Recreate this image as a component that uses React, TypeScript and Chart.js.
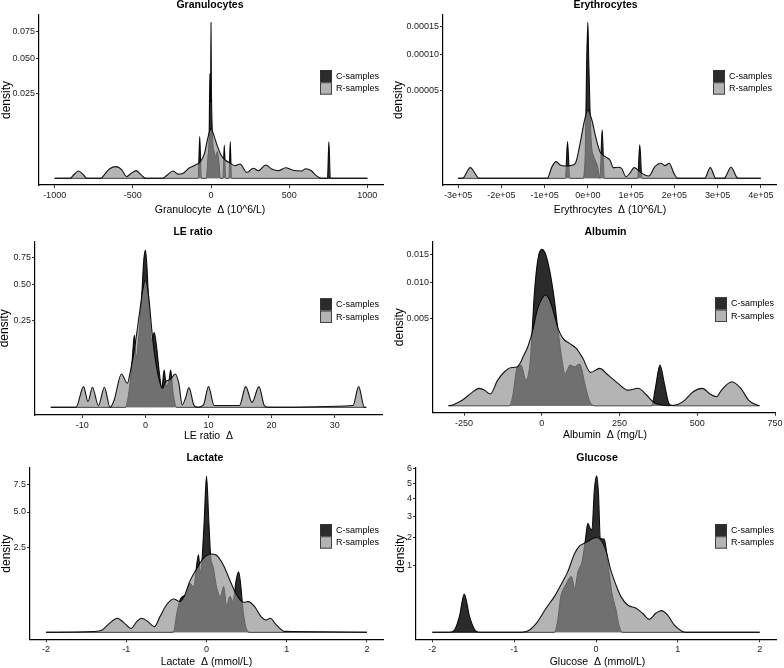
import React, { useEffect, useRef } from 'react';
import { Chart, registerables, LinearScale } from 'chart.js';

Chart.register(...registerables);

// square-root y scale (ggplot scale_y_sqrt)
class SqrtScale extends LinearScale {
  static id = 'sqrt';
  static defaults = {};
  getPixelForValue(value: any) {
    if (value === null || value === undefined || isNaN(value)) return NaN;
    const s = Math.sign(value) * Math.sqrt(Math.abs(value));
    return super.getPixelForValue(s);
  }
  getValueForPixel(pixel: number) {
    const s = super.getValueForPixel(pixel) as number;
    return Math.sign(s) * s * s;
  }
}
Chart.register(SqrtScale as any);

const SERIES = ['C-samples', 'R-samples'];

// ---------- data: [delta, density] ----------
const granulocyteC: [number, number][] = [[-1000,0],[-82,0],[-72,0.006],[-62,0],[-30,0],[-20,0.0015],[-12,0.006],[-7,0.038],[-3,0.02],[0,0.084],[3,0.025],[7,0.01],[12,0.004],[20,0.0025],[30,0.0015],[40,0.0025],[50,0.001],[60,0],[76,0],[85,0.0038],[94,0],[115,0],[123,0.0046],[131,0],[745,0],[754,0.0046],[763,0],[1000,0]];
const granulocyteR: [number, number][] = [[-1000,0],[-900,0],[-879,3.8e-5],[-847,1.86e-4],[-815,3.8e-5],[-795,0],[-705,0],[-680,5.5e-5],[-650,3.0e-4],[-608,4.7e-4],[-570,2.4e-4],[-540,1.0e-5],[-510,8.6e-5],[-479,2.03e-4],[-450,5.5e-5],[-420,0],[-310,0],[-280,3.8e-5],[-242,1.86e-4],[-210,6.0e-5],[-180,8.0e-5],[-142,3.5e-4],[-110,5.5e-4],[-68,9.6e-4],[-42,2.16e-3],[-21,5.5e-3],[0,8.6e-3],[21,6.0e-3],[42,3.46e-3],[64,1.88e-3],[91,1.16e-3],[123,7.8e-4],[155,5.5e-4],[186,7.1e-4],[229,1.24e-4],[271,3.5e-4],[303,2.0e-4],[350,6.1e-4],[388,3.0e-4],[430,2.0e-4],[477,3.9e-4],[525,2.2e-4],[578,1.86e-4],[606,3.2e-4],[642,2.0e-4],[674,2.5e-5],[705,0],[1000,0]];

const erythrocyteC: [number, number][] = [[-300000,0],[-52000,0],[-47000,8.8e-6],[-42000,0],[-12000,0],[-6000,4e-6],[-3000,8e-5],[0,1.59e-4],[2000,9e-5],[5000,3e-5],[8000,8e-6],[14000,3e-6],[22000,1e-6],[28000,0],[33000,1.53e-5],[38000,0],[115000,0],[120000,7.3e-6],[125000,0],[400000,0]];
const erythrocyteR: [number, number][] = [[-300000,0],[-290000,0],[-272000,7.4e-7],[-251000,0],[-94000,0],[-83000,8.9e-7],[-73500,1.82e-6],[-64000,1.16e-6],[-52000,1.0e-6],[-41000,1.05e-6],[-29000,1.47e-6],[-18000,8.0e-6],[-7700,2.22e-5],[0,3.05e-5],[9200,2.22e-5],[18000,1.13e-5],[28000,4.6e-6],[40000,3.07e-6],[51000,2.2e-6],[59000,7.4e-7],[70000,7.9e-7],[78000,6.5e-7],[88000,1.8e-8],[97000,1.6e-7],[107000,7.4e-7],[120000,2.9e-7],[132000,7.3e-8],[141000,3.6e-8],[155000,8.9e-7],[169000,1.47e-6],[178000,1.05e-6],[188000,1.47e-6],[199000,1.6e-7],[208000,0],[270000,0],[283000,7.4e-7],[296000,0],[315000,0],[331000,7.9e-7],[347000,0],[400000,0]];

const leRatioC: [number, number][] = [[-15,0],[-3.2,0],[-2.5,0.0142],[-2.1,0.0744],[-1.75,0.1738],[-1.46,0.0744],[-1.2,0.1223],[-0.68,0.3366],[-0.26,0.7211],[0,0.8223],[0.21,0.6889],[0.62,0.2935],[0.99,0.1506],[1.4,0.1852],[1.77,0.1223],[2.19,0.0423],[2.6,0.012],[2.97,0.0463],[3.33,0.0142],[3.75,0.0248],[4.0,0.0463],[4.4,0.0065],[4.95,0],[35,0]];
const leRatioR: [number, number][] = [[-15,0],[-11,0],[-9.8,0.0142],[-9.1,0.0011],[-8.4,0.0133],[-7.45,0.0001],[-6.5,0.0133],[-5.6,0],[-4.95,0.0018],[-3.8,0.0369],[-2.86,0.0191],[-2.5,0.0347],[-1.72,0.1156],[-0.94,0.2935],[-0.42,0.4573],[0,0.5386],[0.52,0.4069],[1.04,0.1902],[1.4,0.1029],[1.67,0.0643],[2.19,0.0248],[2.7,0.012],[3.23,0.0219],[4.0,0.026],[4.7,0.0369],[5.3,0.0191],[5.83,0.0002],[6.35,0.0027],[6.9,0.0128],[7.66,0.0002],[8.2,0],[9.2,0.0002],[10,0.0142],[10.9,0.0001],[14.9,0.0001],[15.9,0.0142],[16.9,0.0008],[18,0.0142],[18.85,0.0001],[19.4,0],[32.9,0.0001],[33.8,0.0142],[34.7,0],[35,0]];

const albuminC: [number, number][] = [[-300,0],[-104,0],[-94,5.3e-5],[-80,9.2e-4],[-67,1.09e-3],[-51,4.3e-4],[-37,1.37e-3],[-24,8.3e-3],[-13,0.01398],[0,0.0161],[11,0.0153],[25,0.0121],[39,7.83e-3],[52,3.77e-3],[65,1.37e-3],[75,6.6e-4],[91,1.09e-3],[105,1.0e-3],[122,1.14e-3],[138,3.3e-4],[154,1.05e-5],[170,0],[353,0],[366,2.4e-4],[380,1.09e-3],[394,3.3e-4],[409,3e-6],[423,0],[700,0]];
const albuminR: [number, number][] = [[-300,0],[-287,3e-7],[-255,2.1e-5],[-228,1.0e-4],[-201,1.98e-4],[-185,1.62e-4],[-166,9e-5],[-142,4.3e-4],[-120,7.6e-4],[-101,9.5e-4],[-80,9.9e-4],[-67,1.28e-3],[-61,1.54e-3],[-45,2.29e-3],[-29,3.77e-3],[-15,6.0e-3],[-2,7.36e-3],[11,8.07e-3],[25,7.36e-3],[39,5.6e-3],[52,3.94e-3],[68,2.99e-3],[89,2.56e-3],[111,2.17e-3],[132,1.48e-3],[157,7.3e-4],[186,9.2e-4],[213,6.2e-4],[245,3.3e-4],[277,1.6e-4],[310,2.0e-4],[337,7.5e-5],[358,1.05e-5],[374,1.2e-6],[406,0],[439,1.2e-6],[460,2.1e-5],[487,1.29e-4],[516,1.98e-4],[541,9e-5],[562,5.3e-5],[578,1.62e-4],[611,3.8e-4],[640,1.98e-4],[665,2.1e-5],[686,1.2e-6],[700,0]];

const lactateC: [number, number][] = [[-2,0],[-0.45,0],[-0.41,0.0001],[-0.37,0.125],[-0.33,0.361],[-0.3,0.44],[-0.25,0.508],[-0.21,0.83],[-0.16,0.72],[-0.1,2.07],[-0.075,1.2],[-0.03,4.1],[0,8.44],[0.03,4.1],[0.054,1.89],[0.083,1.49],[0.124,0.72],[0.174,0.44],[0.215,0.72],[0.25,0.228],[0.29,0.44],[0.33,0.325],[0.37,0.946],[0.4,1.27],[0.42,0.946],[0.46,0.125],[0.505,0.0012],[0.54,0],[2,0]];
const lactateR: [number, number][] = [[-2,0],[-1.41,0.0002],[-1.3,0.0019],[-1.2,0.0323],[-1.11,0.0677],[-1.03,0.0323],[-0.94,0.0055],[-0.87,0.0393],[-0.81,0.0677],[-0.73,0.0393],[-0.65,0.0111],[-0.58,0.0848],[-0.5,0.258],[-0.41,0.384],[-0.33,0.325],[-0.27,0.482],[-0.21,0.887],[-0.12,1.415],[-0.04,1.89],[0.06,2.12],[0.12,2.066],[0.21,1.566],[0.29,0.946],[0.37,0.508],[0.46,0.311],[0.52,0.325],[0.6,0.228],[0.68,0.0848],[0.745,0.0526],[0.795,0.0677],[0.87,0.0186],[0.97,0.0003],[1.08,0.0002],[2,0]];

const glucoseC: [number, number][] = [[-2,0],[-1.79,0],[-1.73,0.0012],[-1.67,0.0552],[-1.61,0.33],[-1.545,0.0552],[-1.48,0.0012],[-1.42,0],[-0.51,0],[-0.47,0.0256],[-0.43,0.286],[-0.37,0.504],[-0.3,0.697],[-0.26,0.436],[-0.22,0.828],[-0.17,1.124],[-0.13,1.918],[-0.1,2.67],[-0.073,2.43],[-0.05,2.356],[-0.02,4.56],[0.008,5.5],[0.03,4.35],[0.053,1.99],[0.1,1.95],[0.15,0.97],[0.195,0.342],[0.244,0.112],[0.285,0.0072],[0.325,0],[2,0]];
const glucoseR: [number, number][] = [[-2,0],[-0.955,0],[-0.83,0.0006],[-0.73,0.0182],[-0.61,0.13],[-0.51,0.286],[-0.43,0.504],[-0.345,0.828],[-0.26,1.404],[-0.2,1.677],[-0.14,1.78],[-0.07,1.918],[0,2.02],[0.06,1.918],[0.12,1.525],[0.18,0.874],[0.244,0.504],[0.305,0.286],[0.386,0.168],[0.49,0.13],[0.57,0.0812],[0.65,0.038],[0.73,0.0812],[0.8,0.106],[0.874,0.0676],[0.955,0.0121],[1.04,0.0006],[1.1,0],[2,0]];

// ---------- ticks ----------
const granXTicks = [-1000, -500, 0, 500, 1000];
const granXLabels = ['-1000', '-500', '0', '500', '1000'];
const granYTicks = [0.025, 0.05, 0.075];
const granYLabels = ['0.025', '0.050', '0.075'];
const eryXTicks = [-300000, -200000, -100000, 0, 100000, 200000, 300000, 400000];
const eryXLabels = ['-3e+05', '-2e+05', '-1e+05', '0e+00', '1e+05', '2e+05', '3e+05', '4e+05'];
const eryYTicks = [0.00005, 0.0001, 0.00015];
const eryYLabels = ['0.00005', '0.00010', '0.00015'];
const leXTicks = [-10, 0, 10, 20, 30];
const leXLabels = ['-10', '0', '10', '20', '30'];
const leYTicks = [0.25, 0.5, 0.75];
const leYLabels = ['0.25', '0.50', '0.75'];
const albXTicks = [-250, 0, 250, 500, 750];
const albXLabels = ['-250', '0', '250', '500', '750'];
const albYTicks = [0.005, 0.01, 0.015];
const albYLabels = ['0.005', '0.010', '0.015'];
const lacXTicks = [-2, -1, 0, 1, 2];
const lacXLabels = ['-2', '-1', '0', '1', '2'];
const lacYTicks = [2.5, 5, 7.5];
const lacYLabels = ['2.5', '5.0', '7.5'];
const gluXTicks = [-2, -1, 0, 1, 2];
const gluXLabels = ['-2', '-1', '0', '1', '2'];
const gluYTicks = [1, 2, 3, 4, 5, 6];
const gluYLabels = ['1', '2', '3', '4', '5', '6'];

const PANELS = [
  { title: 'Granulocytes', xTitle: 'Granulocyte  \u0394 (10^6/L)', c: granulocyteC, r: granulocyteR, xt: granXTicks, xl: granXLabels, yt: granYTicks, yl: granYLabels },
  { title: 'Erythrocytes', xTitle: 'Erythrocytes  \u0394 (10^6/L)', c: erythrocyteC, r: erythrocyteR, xt: eryXTicks, xl: eryXLabels, yt: eryYTicks, yl: eryYLabels },
  { title: 'LE ratio', xTitle: 'LE ratio  \u0394', c: leRatioC, r: leRatioR, xt: leXTicks, xl: leXLabels, yt: leYTicks, yl: leYLabels },
  { title: 'Albumin', xTitle: 'Albumin  \u0394 (mg/L)', c: albuminC, r: albuminR, xt: albXTicks, xl: albXLabels, yt: albYTicks, yl: albYLabels },
  { title: 'Lactate', xTitle: 'Lactate  \u0394 (mmol/L)', c: lactateC, r: lactateR, xt: lacXTicks, xl: lacXLabels, yt: lacYTicks, yl: lacYLabels },
  { title: 'Glucose', xTitle: 'Glucose  \u0394 (mmol/L)', c: glucoseC, r: glucoseR, xt: gluXTicks, xl: gluXLabels, yt: gluYTicks, yl: gluYLabels },
];

// ---------- layout (canvas coords) ----------
const LAYOUT = [
  { left: 0, top: 0, w: 392, h: 220, L: 39, R: 383, T: 15, B: 185, xMin: -1100, xMax: 1100, ySMin: -0.01246, ySMax: 0.3038, tx: 210, ty: 5, xtx: 210, xty: 210, ytx: 7, lx: 320, ly: 70 },
  { left: 392, top: 0, w: 392, h: 220, L: 51, R: 384, T: 15, B: 185, xMin: -335000, xMax: 435000, ySMin: -0.000542, ySMax: 0.013201, tx: 213.5, ty: 5, xtx: 218, xty: 210, ytx: 6.5, lx: 321, ly: 70 },
  { left: 0, top: 220, w: 392, h: 225, L: 35, R: 382, T: 21.7, B: 195, xMin: -17.5, xMax: 37.5, ySMin: -0.0444, ySMax: 0.9545, tx: 193, ty: 12, xtx: 208.5, xty: 216, ytx: 5, lx: 320, ly: 78.3 },
  { left: 392, top: 220, w: 392, h: 225, L: 41, R: 383, T: 21.7, B: 192.7, xMin: -350, xMax: 750, ySMin: -0.00568, ySMax: 0.1331, tx: 213.5, ty: 12, xtx: 213, xty: 215, ytx: 8, lx: 323, ly: 77.3 },
  { left: 0, top: 440, w: 392, h: 228, L: 30, R: 383, T: 28, B: 199.3, xMin: -2.2, xMax: 2.2, ySMin: -0.13, ySMax: 3.054, tx: 205, ty: 18.3, xtx: 206.5, xty: 221.7, ytx: 7, lx: 320, ly: 84 },
  { left: 392, top: 440, w: 392, h: 228, L: 24, R: 384, T: 28, B: 199.3, xMin: -2.2, xMax: 2.2, ySMin: -0.105, ySMax: 2.463, tx: 205, ty: 18.3, xtx: 205.5, xty: 221.7, ytx: 9, lx: 323, ly: 84 },
];

const FONT = '"Liberation Sans", Arial, Helvetica, sans-serif';
const C_FILL = 'rgba(0,0,0,0.83)';
const R_FILL = 'rgba(145,145,145,0.68)';
const LINE = 'rgba(0,0,0,0.92)';
const KEY_FILLS = ['#2b2b2b', '#b4b4b4'];
const TICK_COLOR = '#222';

function Panel({ p, lay }: { p: any; lay: any }) {
  const ref = useRef<HTMLCanvasElement>(null);
  useEffect(() => {
    const canvas = ref.current!;
    const decor = {
      id: 'decor',
      afterDraw(chart: any) {
        const ctx = chart.ctx as CanvasRenderingContext2D;
        ctx.save();
        ctx.fillStyle = '#000';
        ctx.textAlign = 'center';
        ctx.textBaseline = 'middle';
        ctx.font = `bold 10.5px ${FONT}`;
        ctx.fillText(p.title, lay.tx, lay.ty);
        ctx.font = `10.5px ${FONT}`;
        ctx.fillText(p.xTitle, lay.xtx, lay.xty);
        ctx.save();
        ctx.translate(lay.ytx, (lay.T + lay.B) / 2);
        ctx.rotate(-Math.PI / 2);
        ctx.font = `12px ${FONT}`;
        ctx.fillText('density', 0, 0);
        ctx.restore();
        // legend
        const bw = 12, bh = 12.3;
        SERIES.forEach((name, i) => {
          const y = lay.ly + i * bh;
          ctx.fillStyle = KEY_FILLS[i];
          ctx.fillRect(lay.lx, y, bw, bh);
          ctx.strokeStyle = '#333';
          ctx.lineWidth = 0.9;
          ctx.strokeRect(lay.lx + 0.45, y + 0.45, bw - 0.9, bh - 0.9);
          ctx.fillStyle = '#000';
          ctx.textAlign = 'left';
          ctx.font = `9px ${FONT}`;
          ctx.fillText(name, lay.lx + bw + 4, y + bh / 2 + 0.5);
        });
        ctx.restore();
      },
    };
    const mk = (pts: [number, number][], label: string, fillCol: string, order: number) => ({
      label,
      data: pts.map(([x, y]) => ({ x, y })),
      order,
      backgroundColor: fillCol,
      borderColor: LINE,
      borderWidth: 1.1,
      fill: 'origin',
      pointRadius: 0,
      tension: 0,
      cubicInterpolationMode: 'monotone',
    });
    const gridOpts = { display: true, drawOnChartArea: false, drawTicks: true, tickLength: 3, color: '#333', lineWidth: 1 };
    const chart = new Chart(canvas, {
      type: 'line',
      data: {
        datasets: [
          mk(p.c, SERIES[0], C_FILL, 2),
          mk(p.r, SERIES[1], R_FILL, 1),
        ] as any,
      },
      plugins: [decor],
      options: {
        responsive: false,
        animation: false,
        devicePixelRatio: 1,
        events: [],
        layout: { padding: { left: 0, top: lay.T, right: lay.w - lay.R, bottom: 0 } },
        plugins: { legend: { display: false }, tooltip: { enabled: false }, title: { display: false } },
        scales: {
          x: {
            type: 'linear',
            position: 'bottom',
            min: lay.xMin,
            max: lay.xMax,
            afterBuildTicks: (s: any) => { s.ticks = p.xt.map((v: number) => ({ value: v })); },
            afterFit: (s: any) => { s.height = lay.h - lay.B; s.paddingLeft = 0; s.paddingRight = 0; },
            ticks: { autoSkip: false, maxRotation: 0, minRotation: 0, padding: 2, color: TICK_COLOR, font: { family: FONT, size: 9 }, callback: (_v: any, i: number) => p.xl[i] },
            grid: gridOpts,
            border: { display: true, color: '#000', width: 1.2 },
          },
          y: {
            type: 'sqrt' as any,
            position: 'left',
            min: lay.ySMin,
            max: lay.ySMax,
            afterBuildTicks: (s: any) => { s.ticks = p.yt.map((v: number) => ({ value: v })); },
            afterFit: (s: any) => { s.width = lay.L; s.paddingTop = 0; s.paddingBottom = 0; },
            ticks: { autoSkip: false, padding: 1, color: TICK_COLOR, font: { family: FONT, size: 9 }, callback: (_v: any, i: number) => p.yl[i] },
            grid: gridOpts,
            border: { display: true, color: '#000', width: 1.2 },
          },
        },
      } as any,
    });
    return () => chart.destroy();
  }, []);
  return (
    <canvas
      ref={ref}
      width={lay.w}
      height={lay.h}
      style={{ position: 'absolute', left: lay.left, top: lay.top, width: lay.w, height: lay.h }}
    />
  );
}

export default function App() {
  useEffect(() => {
    document.body.style.margin = '0';
    document.body.style.background = '#fff';
  }, []);
  return (
    <div style={{ position: 'absolute', left: 0, top: 0, width: 784, height: 668, background: '#fff', overflow: 'hidden' }}>
      {PANELS.map((p, i) => (
        <Panel key={i} p={p} lay={LAYOUT[i]} />
      ))}
    </div>
  );
}
